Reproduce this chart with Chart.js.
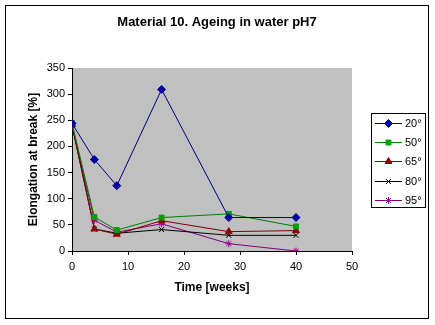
<!DOCTYPE html>
<html>
<head>
<meta charset="utf-8">
<style>
  html, body { margin: 0; padding: 0; background: #ffffff; }
  #wrap { width: 435px; height: 325px; }
</style>
<script src="https://cdn.jsdelivr.net/npm/chart.js@4/dist/chart.umd.min.js"></script>
</head>
<body>
<div id="wrap"><canvas id="c" width="435" height="325"></canvas></div>
<script>
const chartTitle = 'Material 10. Ageing in water pH7';
const xTitle = 'Time [weeks]';
const yTitle = 'Elongation at break [%]';
const weeks = [0, 4, 8, 16, 28, 40];
const seriesNames = ['20°', '50°', '65°', '80°', '95°'];
const t20 = [244, 175, 125, 309, 64, 64];
const t50 = [245, 65, 40, 64, 71, 47];
const t65 = [242, 42, 32, 58, 37, 39];
const t80 = [240, 42, 34, 41, 30, 30];
const t95 = [240, 59, 36, 52, 14, 0];
const xTicks = [0, 10, 20, 30, 40, 50];
const yTicks = [0, 50, 100, 150, 200, 250, 300, 350];

const lineColors = ['#000080', '#008000', '#800000', '#000000', '#800080'];
const markerColors = ['#0000A0', '#00A000', '#900000', '#000000', '#A000A0'];
const markerStyles = ['rectRot', 'rect', 'triangle', 'crossRot', 'star'];
const markerRadius = [4, 3.5, 4, 3.5, 3.5];
const allValues = [t20, t50, t65, t80, t95];

Chart.defaults.font.family = '"Liberation Sans", Arial, sans-serif';
Chart.defaults.color = '#000000';

const datasets = seriesNames.map((name, i) => ({
  label: name,
  data: weeks.map((w, j) => ({ x: w, y: allValues[i][j] })),
  showLine: true,
  tension: 0,
  borderColor: lineColors[i],
  borderWidth: 1,
  backgroundColor: markerColors[i],
  pointBackgroundColor: markerColors[i],
  pointBorderColor: markerColors[i],
  pointBorderWidth: 1,
  pointStyle: markerStyles[i],
  pointRadius: markerRadius[i],
  pointHoverRadius: markerRadius[i]
}));

const decor = {
  id: 'decor',
  beforeDraw(chart) {
    const ctx = chart.ctx;
    const a = chart.chartArea;
    ctx.save();
    ctx.fillStyle = '#ffffff';
    ctx.fillRect(0, 0, chart.width, chart.height);
    ctx.fillStyle = '#C0C0C0';
    ctx.fillRect(a.left, a.top, a.right - a.left, a.bottom - a.top);
    ctx.restore();
  },
  afterDraw(chart) {
    const ctx = chart.ctx;
    ctx.save();
    // outer border
    ctx.strokeStyle = '#000000';
    ctx.lineWidth = 1;
    ctx.strokeRect(5.5, 5.5, 423, 313);
    // title
    ctx.fillStyle = '#000000';
    ctx.font = 'bold 13px "Liberation Sans", Arial, sans-serif';
    ctx.textAlign = 'center';
    ctx.textBaseline = 'middle';
    ctx.fillText(chartTitle, 217, 22);
    // legend
    const lx = 371, ly = 113, lw = 54, lh = 94;
    ctx.fillStyle = '#ffffff';
    ctx.fillRect(lx, ly, lw, lh);
    ctx.strokeStyle = '#000000';
    ctx.strokeRect(lx + 0.5, ly + 0.5, lw, lh);
    ctx.font = '11px "Liberation Sans", Arial, sans-serif';
    ctx.textAlign = 'left';
    chart.data.datasets.forEach((ds, i) => {
      const y = Math.round(ly + 10 + i * 19.2) + 0.5;
      ctx.strokeStyle = ds.borderColor;
      ctx.lineWidth = 1;
      ctx.beginPath();
      ctx.moveTo(lx + 4, y);
      ctx.lineTo(lx + 31, y);
      ctx.stroke();
      ctx.fillStyle = ds.pointBackgroundColor;
      ctx.strokeStyle = ds.pointBorderColor;
      ctx.lineWidth = 1;
      Chart.helpers.drawPoint(ctx, {
        pointStyle: ds.pointStyle,
        radius: ds.pointRadius,
        rotation: 0,
        borderWidth: 1
      }, lx + 17.5, y);
      ctx.fillStyle = '#000000';
      ctx.fillText(ds.label, lx + 34, y + 0.5);
    });
    ctx.restore();
  }
};

new Chart(document.getElementById('c'), {
  type: 'scatter',
  data: { datasets },
  options: {
    responsive: false,
    animation: false,
    devicePixelRatio: 1,
    layout: { padding: { left: 20, right: 83, top: 68, bottom: 25 } },
    plugins: { legend: { display: false }, title: { display: false }, tooltip: { enabled: false } },
    scales: {
      x: {
        type: 'linear',
        min: 0, max: 50,
        afterBuildTicks: (s) => { s.ticks = xTicks.map(v => ({ value: v })); },
        afterFit: (s) => { s.height = 49; },
        grid: { display: true, drawOnChartArea: false, drawTicks: true, tickLength: 4, color: '#000000' },
        border: { display: true, color: '#000000', width: 1 },
        ticks: { padding: 5, font: { size: 11 }, color: '#000000', maxRotation: 0 },
        title: { display: true, text: xTitle, font: { size: 12, weight: 'bold' }, padding: { top: 0, bottom: 5 } }
      },
      y: {
        type: 'linear',
        min: 0, max: 350,
        afterBuildTicks: (s) => { s.ticks = yTicks.map(v => ({ value: v })); },
        afterFit: (s) => { s.width = 52; },
        grid: { display: true, drawOnChartArea: false, drawTicks: true, tickLength: 4, color: '#000000' },
        border: { display: true, color: '#000000', width: 1 },
        ticks: { padding: 3, font: { size: 11 }, color: '#000000' },
        title: { display: true, text: yTitle, font: { size: 12, weight: 'bold' }, padding: { top: 6, bottom: 0 } }
      }
    }
  },
  plugins: [decor]
});
</script>
</body>
</html>
